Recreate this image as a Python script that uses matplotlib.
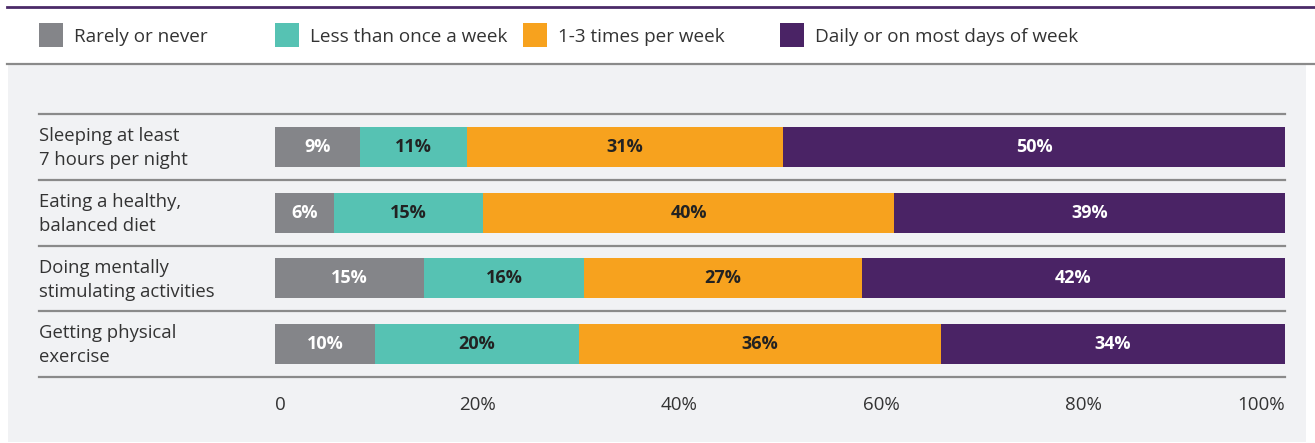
import numpy as np
import matplotlib
matplotlib.use("Agg")
import matplotlib.pyplot as plt
from matplotlib.patches import Rectangle
from matplotlib.lines import Line2D

plt.rcParams['font.family'] = ['Open Sans', 'DejaVu Sans']

# Data
categories = ["Sleeping at least\n7 hours per night",
              "Eating a healthy,\nbalanced diet",
              "Doing mentally\nstimulating activities",
              "Getting physical\nexercise"]
series = ["Rarely or never", "Less than once a week",
          "1-3 times per week", "Daily or on most days of week"]
# segment lengths as drawn (share of bar, %)
rarely = [8.4, 5.8, 14.8, 9.9]
less_weekly = [10.6, 14.8, 15.8, 20.2]
weekly = [31.3, 40.7, 27.5, 35.8]
daily = [49.7, 38.7, 41.9, 34.1]
# printed labels
rarely_lbl = [9, 6, 15, 10]
less_weekly_lbl = [11, 15, 16, 20]
weekly_lbl = [31, 40, 27, 36]
daily_lbl = [50, 39, 42, 34]
ticks = [0, 20, 40, 60, 80, 100]
tick_labels = ["0", "20%", "40%", "60%", "80%", "100%"]

colors = ["#848589", "#56c2b3", "#f7a21e", "#4a2365"]
label_colors = ["white", "#222222", "#222222", "white"]
text_col = "#333333"

W, H = 1315, 443
fig = plt.figure(figsize=(W / 100, H / 100), dpi=100)
fig.patch.set_facecolor("white")

def fx(px):
    return px / W

def fy(py):
    return 1 - py / H

# background panel and rules
fig.patches.append(Rectangle((fx(8), fy(442)), fx(1306) - fx(8), fy(64) - fy(442),
                             transform=fig.transFigure, facecolor="#f1f2f4",
                             edgecolor="none", zorder=-5))
fig.add_artist(Line2D([fx(7), 1], [fy(7), fy(7)], color="#4b2a68", lw=2.0))
fig.add_artist(Line2D([fx(7), 1], [fy(63.5), fy(63.5)], color="#8a8a8a", lw=1.6))

# legend (manual)
leg_x = [39, 275, 523, 780]
for x0, name, c in zip(leg_x, series, colors):
    fig.patches.append(Rectangle((fx(x0), fy(47)), fx(24), fy(23) - fy(47),
                                 transform=fig.transFigure, facecolor=c,
                                 edgecolor="none"))
    fig.text(fx(x0 + 35), fy(42), name, fontsize=13.6, color=text_col,
             va="baseline", ha="left")

# main axes
ax = fig.add_axes([fx(275), fy(377), fx(1285) - fx(275), fy(114) - fy(377)])
ax.set_facecolor("none")

data = np.array([rarely, less_weekly, weekly, daily])
lbls = np.array([rarely_lbl, less_weekly_lbl, weekly_lbl, daily_lbl])
y = np.arange(len(categories))
left = np.zeros(len(categories))
for i in range(len(series)):
    ax.barh(y, data[i], left=left, height=0.61, color=colors[i],
            edgecolor="none", zorder=2)
    for j in range(len(categories)):
        ax.text(left[j] + data[i][j] / 2, y[j], f"{lbls[i][j]}%",
                ha="center", va="center", fontsize=13, fontweight="bold",
                color=label_colors[i], zorder=3)
    left += data[i]

ax.set_xlim(0, 100)
ax.set_ylim(len(categories) - 0.5, -0.5)

xmin_frac = (39 - 275) / 1010
for k in range(len(categories) + 1):
    ax.axhline(k - 0.5, xmin=xmin_frac, xmax=1, color="#8a8a8a", lw=1.6,
               clip_on=False, zorder=1)

for j, cat in enumerate(categories):
    ax.text(xmin_frac, y[j] + 0.02, cat, transform=ax.get_yaxis_transform(),
            ha="left", va="center", fontsize=13.3, color=text_col,
            linespacing=1.42)

ax.set_yticks([])
ax.set_xticks(ticks)
ax.set_xticklabels(tick_labels, fontsize=13.5, color=text_col)
ax.tick_params(axis="x", length=0, pad=14)
labels = ax.get_xticklabels()
labels[0].set_ha("left")
labels[-1].set_ha("right")
for s in ax.spines.values():
    s.set_visible(False)

fig.savefig("out.png", dpi=100)
